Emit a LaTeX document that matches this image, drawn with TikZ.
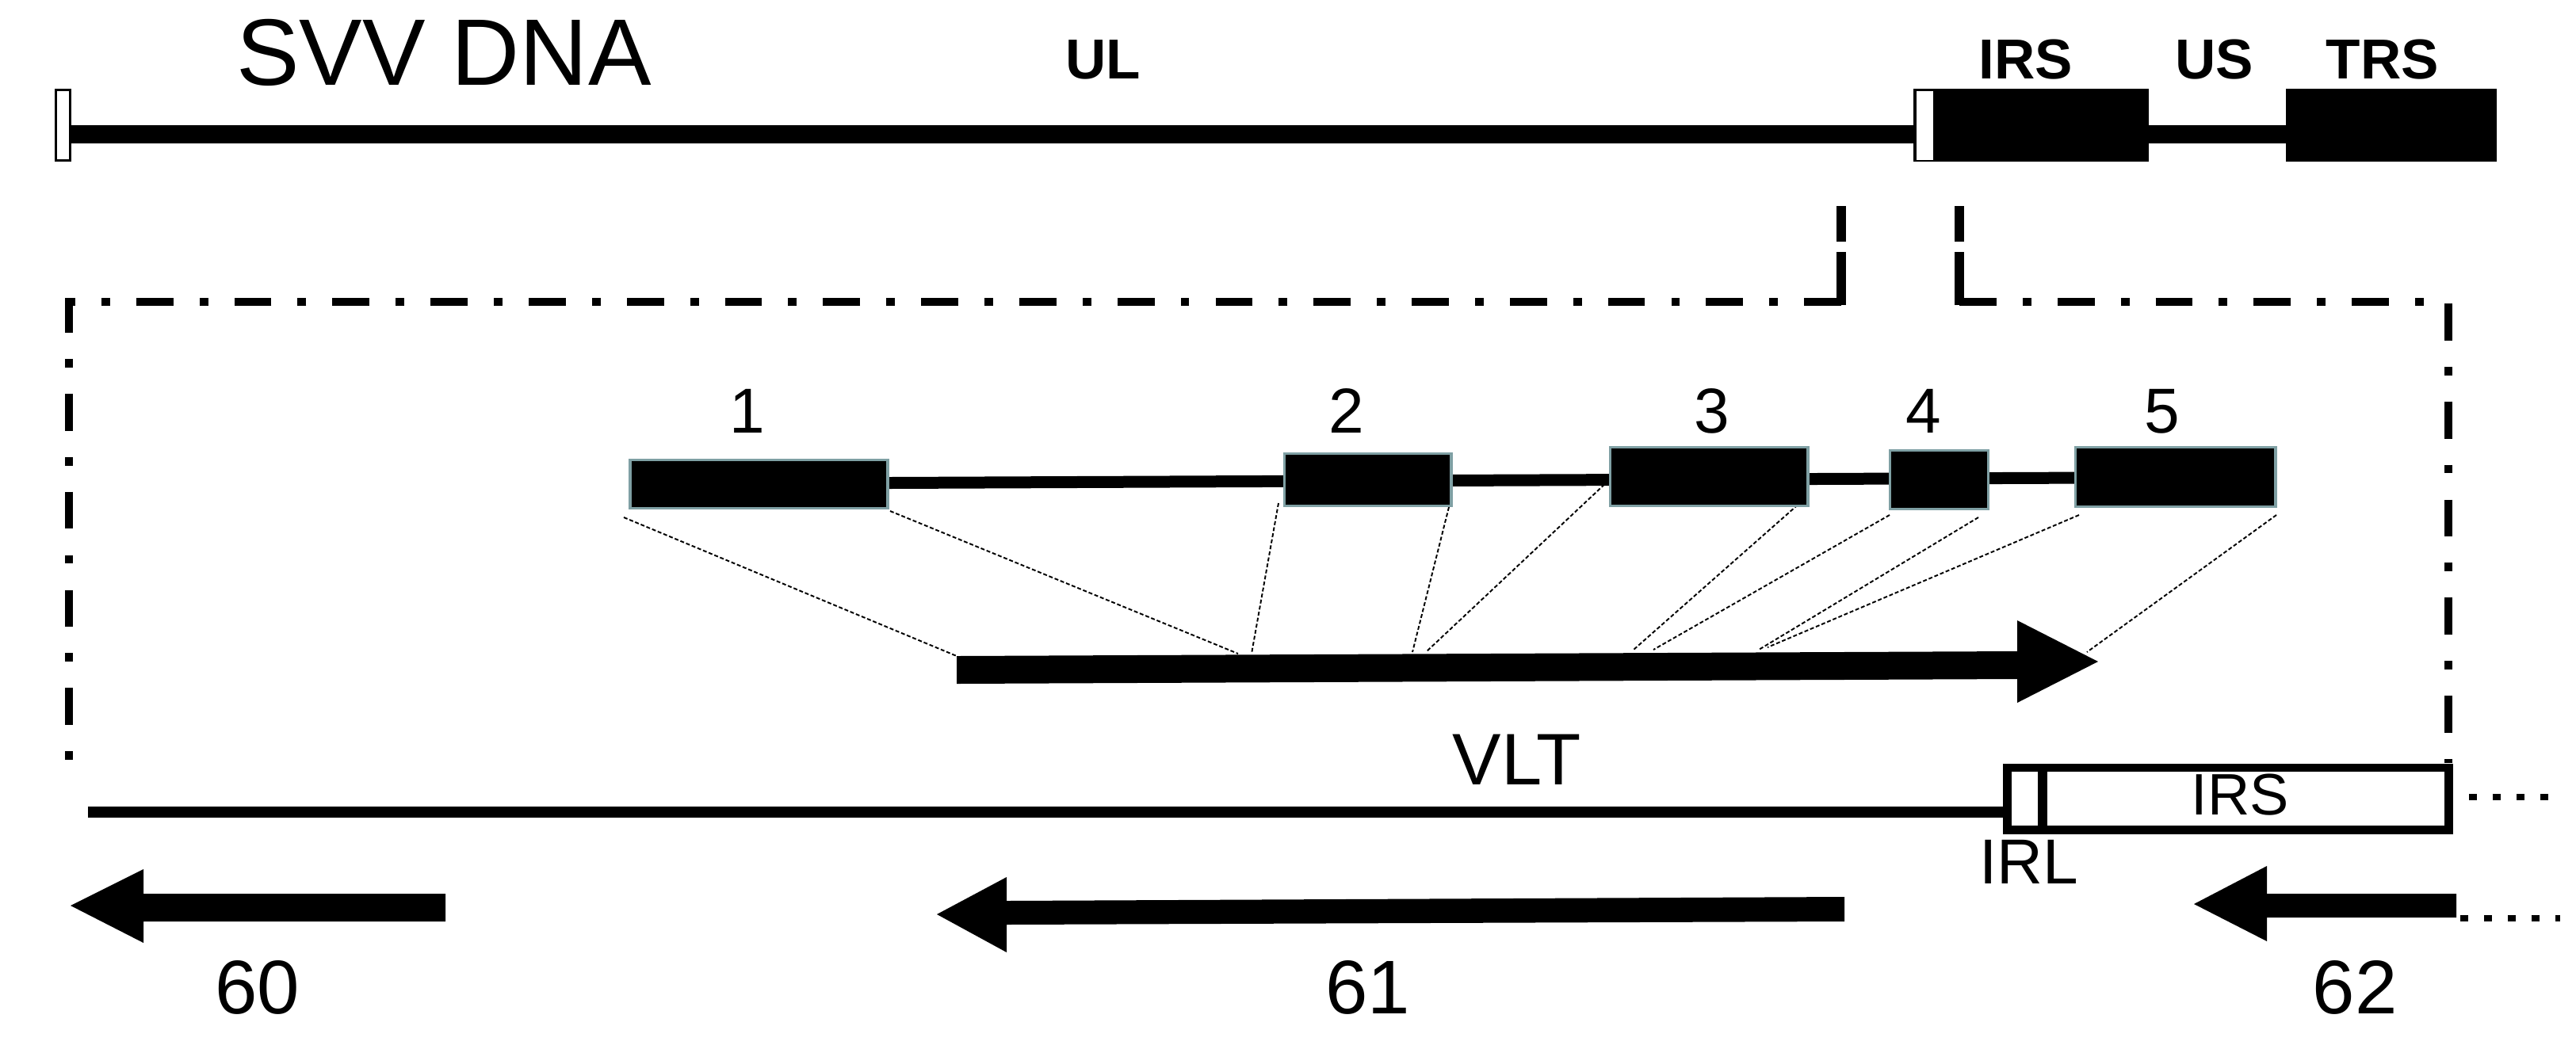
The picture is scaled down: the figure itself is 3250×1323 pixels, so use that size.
\documentclass[tikz,border=0pt]{standalone}
\usepackage{fontspec}
\setmainfont{Liberation Sans}
\usetikzlibrary{calc}
\definecolor{exonedge}{RGB}{127,160,164}
\begin{document}
\begin{tikzpicture}[x=0.01cm,y=-0.01cm,
  lbl/.style={inner sep=0pt,anchor=base},
  exon/.style={rectangle,fill=black,draw=exonedge,line width=1.1pt,inner sep=0pt},
  proj/.style={line width=0.55pt,dash pattern=on 1.4pt off 0.8pt},
  frameline/.style={line width=3pt,dash pattern=on 13.3pt off 9.4pt on 3.1pt off 9.4pt},
  tick/.style={line width=3.3pt},
  dotline/.style={line width=2.4pt,dash pattern=on 2.8pt off 5.7pt},
  gene/.style={fill=black}]
\useasboundingbox[fill=white] (0,0) rectangle (3250,1323);

% ---------- top genome ----------
\draw[line width=0.85pt,fill=white] (70.5,113.5) rectangle (88.5,202.5);
\fill (89,158) rectangle (2414,181);
\fill (2414,112) rectangle (2711,204);
\fill[white] (2418,115) rectangle (2439,202);
\fill (2711,158) rectangle (2884,181);
\fill (2884,112) rectangle (3150,204);

\node[lbl] (svv) at (560,107) {\fontsize{33.9pt}{40pt}\selectfont SVV DNA};
\node[lbl] (ul)  at (1392,99) {\fontsize{20.2pt}{24pt}\selectfont\bfseries UL};
\node[lbl] (irs) at (2556,99) {\fontsize{20.2pt}{24pt}\selectfont\bfseries IRS};
\node[lbl] (us)  at (2794,99) {\fontsize{20.2pt}{24pt}\selectfont\bfseries US};
\node[lbl] (trs) at (3006,99) {\fontsize{20.2pt}{24pt}\selectfont\bfseries TRS};

% ---------- zoom frame ----------
\draw[tick] (2323,260) -- (2323,305);
\draw[tick] (2323,318) -- (2323,385);
\draw[tick] (2472,260) -- (2472,305);
\draw[tick] (2472,318) -- (2472,385);
\draw[frameline] (2323,381) -- (87,381) -- (87,965);
\draw[frameline] (2472,381) -- (3089,381) -- (3089,963);

% ---------- projection lines ----------
\coordinate (t1) at (787,653);   \coordinate (v1) at (1207,828);
\coordinate (t2) at (1123,645);  \coordinate (v2) at (1562,825);
\coordinate (t3) at (1613,635);  \coordinate (v3) at (1579,825);
\coordinate (t4) at (1828,640);  \coordinate (v4) at (1782,823);
\coordinate (t5) at (2030,606);  \coordinate (v5) at (1799,823);
\coordinate (t6) at (2274,632);  \coordinate (v6) at (2061,820);
\coordinate (t7) at (2384,650);  \coordinate (v7) at (2086,820);
\coordinate (t8) at (2496,653);  \coordinate (v8) at (2219,820);
\coordinate (t9) at (2623,650);  \coordinate (v9) at (2230,817);
\coordinate (t10) at (2872,650); \coordinate (v10) at (2633,823);
\foreach \i in {1,...,10} {\draw[proj] (t\i) -- (v\i);}

% ---------- exons ----------
\fill (1121,602) -- (2872,594.5) -- (2872,609.5) -- (1121,617) -- cycle;
\node[exon,minimum width=3.24cm,minimum height=0.61cm] (e1) at (957.5,611) {};
\node[exon,minimum width=2.10cm,minimum height=0.66cm] (e2) at (1725.5,605.5) {};
\node[exon,minimum width=2.49cm,minimum height=0.74cm] (e3) at (2156,601.5) {};
\node[exon,minimum width=1.24cm,minimum height=0.74cm] (e4) at (2446.5,605.5) {};
\node[exon,minimum width=2.52cm,minimum height=0.75cm] (e5) at (2744.5,602) {};

\node[lbl] (n1) at (943,546)  {\fontsize{22.8pt}{27pt}\selectfont 1};
\node[lbl] (n2) at (1699,546) {\fontsize{22.8pt}{27pt}\selectfont 2};
\node[lbl] (n3) at (2160,546) {\fontsize{22.8pt}{27pt}\selectfont 3};
\node[lbl] (n4) at (2427,546) {\fontsize{22.8pt}{27pt}\selectfont 4};
\node[lbl] (n5) at (2728,546) {\fontsize{22.8pt}{27pt}\selectfont 5};

% ---------- VLT arrow ----------
\fill[gene] (1207,828) -- (2545,822) -- (2545,783) -- (2647,835) -- (2545,887) -- (2545,857) -- (1207,863) -- cycle;
\node[lbl] (vlt) at (1914,990) {\fontsize{26.2pt}{31pt}\selectfont VLT};

% ---------- lower genome ----------
\draw[line width=4pt] (111,1025) -- (2527,1025);
\draw[line width=3.1pt] (2532.5,969) rectangle (3089.5,1047.5);
\draw[line width=3.6pt] (2577,969) -- (2577,1047.5);
\node[lbl] (irsb) at (2826,1028) {\fontsize{21pt}{25pt}\selectfont IRS};
\node[lbl] (irl) at (2560,1115) {\fontsize{22.8pt}{27pt}\selectfont IRL};
\draw[dotline] (3115,1006) -- (3216,1006);

% ---------- genes 60, 61, 62 ----------
\fill[gene] (562,1128) -- (181,1128) -- (181,1097) -- (89,1143) -- (181,1190) -- (181,1163) -- (562,1163) -- cycle;
\fill[gene] (2327,1132) -- (1270,1137) -- (1270,1107) -- (1182,1154) -- (1270,1202) -- (1270,1167) -- (2327,1163) -- cycle;
\fill[gene] (3099,1128) -- (2860,1128) -- (2860,1093) -- (2768,1141) -- (2860,1188) -- (2860,1158) -- (3099,1158) -- cycle;
\draw[dotline] (3104,1159) -- (3230,1159);

\node[lbl] (g60) at (325,1279)  {\fontsize{27.3pt}{32pt}\selectfont 60};
\node[lbl] (g61) at (1726,1279) {\fontsize{27.3pt}{32pt}\selectfont 61};
\node[lbl] (g62) at (2971,1279) {\fontsize{27.3pt}{32pt}\selectfont 62};
\end{tikzpicture}
\end{document}
